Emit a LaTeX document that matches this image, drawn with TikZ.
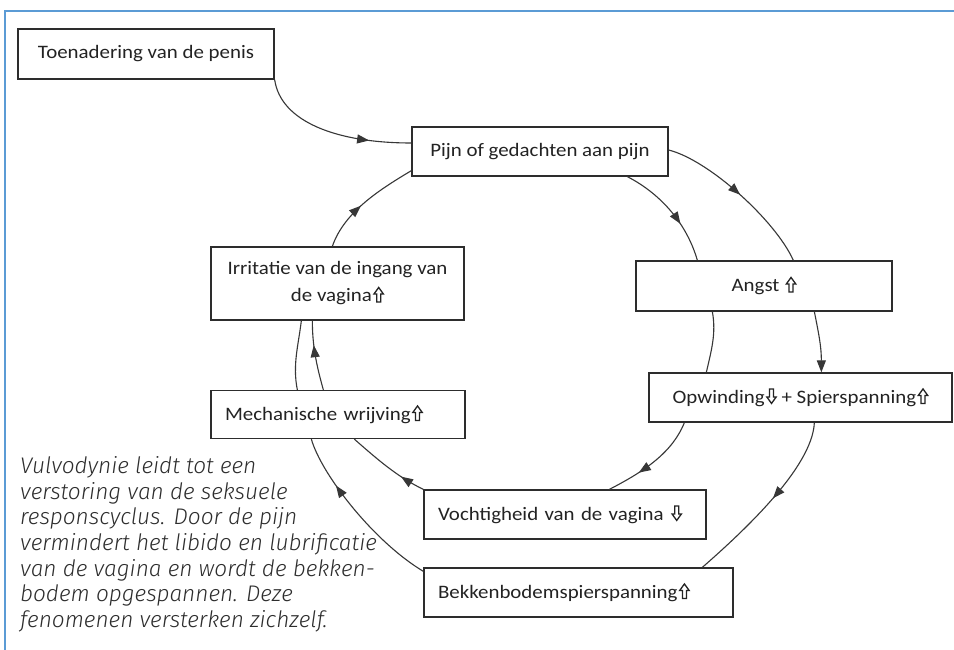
\documentclass[tikz,border=0pt]{standalone}
\usepackage{fontspec}
\usepackage{graphicx}
\setmainfont{Carlito}
\newfontfamily\boxfont{Carlito}[FakeStretch=1.1]
\IfFontExistsTF{Fira Sans Light}
  {\newfontfamily\capfont{Fira Sans Light}}
  {\newfontfamily\capfont{Fira Sans}}
\usetikzlibrary{arrows.meta,decorations.markings,calc}
\definecolor{framec}{RGB}{91,155,213}
\definecolor{boxc}{RGB}{45,45,45}
\definecolor{linec}{RGB}{55,55,55}
\definecolor{txtc}{RGB}{35,35,35}
\definecolor{capc}{RGB}{45,45,45}
\newcommand\upar{\kern1.5pt\tikz[x=1pt,y=1pt,baseline=0pt]\draw[txtc,line width=1.3pt,line join=miter]
  (3,0) -- (3,8) -- (0.3,8) -- (5,14.5) -- (9.7,8) -- (7,8) -- (7,0) -- cycle;}
\newcommand\downar{\kern1.5pt\tikz[x=1pt,y=1pt,baseline=0pt]\draw[txtc,line width=1.3pt,line join=miter]
  (3,14.5) -- (3,6.5) -- (0.3,6.5) -- (5,0) -- (9.7,6.5) -- (7,6.5) -- (7,14.5) -- cycle;}
\tikzset{
  box/.style={draw=boxc, line width=1.3pt, inner sep=0pt, text=txtc,
    font=\boxfont\fontsize{19}{27}\selectfont},
  lbox/.style={box, inner xsep=14pt, align=left},
  conn/.style={draw=linec, line width=1.1pt},
  tip/.style={-{Triangle[length=12pt,width=9pt]}},
  midarrow/.style={postaction={decorate}, decoration={markings,
    mark=at position #1 with {\arrow{Triangle[length=12pt,width=9pt]}}}}
}
\begin{document}
\begin{tikzpicture}[x=1pt,y=-1pt]
\useasboundingbox (0,0) rectangle (954,650);
\fill[white] (0,0) rectangle (954,650);
\draw[framec, line width=2pt] (5,650) -- (5,11) -- (954,11);

\node[box, minimum width=256pt, minimum height=50pt, align=center] (T) at (146,54) {Toenadering van de penis};
\node[box, minimum width=256pt, minimum height=49pt, align=center] (P) at (540,151.5) {Pijn of gedachten aan pijn};
\node[box, minimum width=253pt, minimum height=73pt, align=center] (I) at (337.5,283.5) {Irritatie van de ingang van\\de vagina\upar};
\node[box, minimum width=256pt, minimum height=50pt, align=center] (A) at (764,286) {Angst \upar};
\node[box, minimum width=303pt, minimum height=49pt, align=center] (O) at (800.5,397.5) {Opwinding\downar{} + Spierspanning\upar};
\node[lbox, text width=226pt, minimum height=48pt] (M) at (338,414.5) {Mechanische wrijving\upar};
\node[lbox, text width=254pt, minimum height=49pt] (V) at (565,514.5) {Vochtigheid van de vagina \downar};
\node[lbox, text width=281pt, minimum height=49pt] (B) at (578.5,592.5) {Bekkenbodemspierspanning\upar};

\node[anchor=north west, inner sep=0pt, align=left, text=capc,
  font=\capfont\itshape\fontsize{22.6}{25.6}\selectfont] (C) at (20,456.5)
  {Vulvodynie leidt tot een\\verstoring van de seksuele\\responscyclus. Door de pijn\\vermindert het libido en lubrificatie\\van de vagina en wordt de bekken-\\bodem opgespannen. Deze\\fenomenen versterken zichzelf.};

% outer cycle
\draw[conn, midarrow=0.74] (T.south east) .. controls +(6,42) and +(-75,0) .. ($(P.west)+(0,-8.5)$);
\draw[conn, midarrow=0.5] ($(P.east)+(0,-1.5)$) .. controls +(40,10) and +(-18,-40) .. ($(A.north west)+(158,0)$);
\draw[conn, tip] ($(A.south west)+(179,0)$) .. controls +(5,25) and +(0,-25) .. ($(O.north west)+(173,0)$);
\draw[conn, midarrow=0.47] ($(O.south west)+(166,0)$) .. controls +(-2,45) and +(40,-35) .. ($(B.north west)+(279,0)$);
\draw[conn, midarrow=0.7] ($(B.north west)+(0,4)$) .. controls +(-50,-30) and +(10,35) .. ($(M.south west)+(101,0)$);
\draw[conn] ($(M.north west)+(87,0)$) .. controls +(-5,-25) and +(-3,25) .. ($(I.south west)+(91,0)$);
\draw[conn, midarrow=0.45] ($(I.north west)+(122,0)$) .. controls +(12,-35) and +(-30,18) .. ($(P.south west)+(0,-6)$);

% inner cycle
\draw[conn, midarrow=0.64] ($(P.south west)+(216,0)$) .. controls +(35,18) and +(-10,-35) .. ($(A.north west)+(62,0)$);
\draw[conn] ($(A.south west)+(77,0)$) .. controls +(4,22) and +(5,-22) .. ($(O.north west)+(58,0)$);
\draw[conn, midarrow=0.67] ($(O.south west)+(36,0)$) .. controls +(-12,30) and +(35,-18) .. ($(V.north west)+(186,0)$);
\draw[conn, midarrow=0.3] (V.north west) .. controls +(-25,-12) and +(25,22) .. ($(M.south west)+(144,0)$);
\draw[conn, midarrow=0.65] ($(M.north west)+(113,0)$) .. controls +(-7,-25) and +(0,25) .. ($(I.south west)+(102,0)$);
\end{tikzpicture}
\end{document}
